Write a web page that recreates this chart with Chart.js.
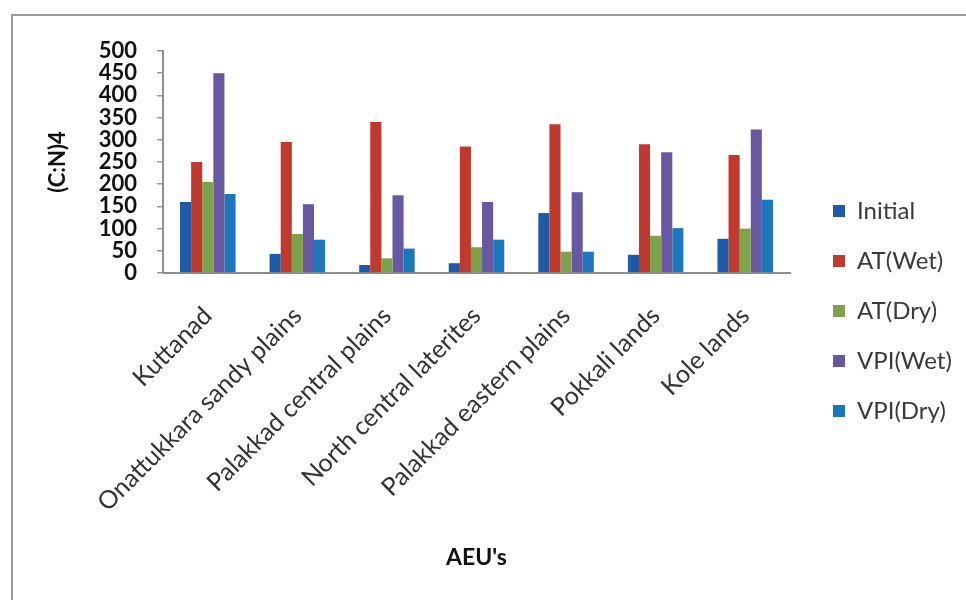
<!DOCTYPE html>
<html>
<head>
<meta charset="utf-8">
<title>C:N ratio by AEU</title>
<script src="https://cdn.jsdelivr.net/npm/chart.js@4.4.1/dist/chart.umd.min.js"></script>
<style>
  html, body { margin: 0; padding: 0; background: #ffffff; }
  body { width: 966px; height: 600px; position: relative; overflow: hidden; }
  #frame {
    position: absolute; left: 11px; top: 14px; width: 980px; height: 620px;
    border-left: 2px solid #9a9a9a; border-top: 2px solid #9a9a9a; box-sizing: border-box;
  }
  #chart { position: absolute; left: 0; top: 0; }
</style>
</head>
<body>
<div id="frame"></div>
<canvas id="chart" width="966" height="600"></canvas>
<script>
// Agro-ecological units along the x axis
const categories = [
  'Kuttanad',
  'Onattukkara sandy plains',
  'Palakkad central plains',
  'North central laterites',
  'Palakkad eastern plains',
  'Pokkali lands',
  'Kole lands'
];

// (C:N)4 values per treatment
const initial = [160, 43, 18, 22, 135, 41, 77];
const atWet   = [250, 295, 340, 285, 335, 290, 266];
const atDry   = [205, 88, 33, 58, 48, 84, 100];
const vpiWet  = [450, 155, 175, 160, 182, 272, 323];
const vpiDry  = [178, 75, 55, 75, 48, 101, 165];

const seriesNames = ['Initial', 'AT(Wet)', 'AT(Dry)', 'VPI(Wet)', 'VPI(Dry)'];
const seriesValues = [initial, atWet, atDry, vpiWet, vpiDry];
const seriesColors = ['#1f5aa6', '#c0392e', '#7ea24a', '#6a57a2', '#1d77bd'];

const yTickMin = 0, yTickMax = 500, yTickStep = 50;

const FONT = 'Lato, "Open Sans", "Liberation Sans", sans-serif';

// Keeps the legend column in a fixed strip right of the plot
const legendStrip = {
  id: 'legendStrip',
  beforeUpdate(chart) {
    const lg = chart.legend;
    if (lg && !lg.__stripFit) {
      const fit = lg.fit.bind(lg);
      lg.fit = function () { fit(); this.width = 176; };
      lg.__stripFit = true;
    }
  },
  afterLayout(chart) {
    const lg = chart.legend;
    if (lg) { lg.left += 17; lg.right += 17; }
  }
};

new Chart(document.getElementById('chart'), {
  type: 'bar',
  data: {
    labels: categories,
    datasets: seriesNames.map((name, i) => ({
      label: name,
      data: seriesValues[i],
      backgroundColor: seriesColors[i],
      borderWidth: 0,
      barPercentage: 1.0,
      categoryPercentage: 0.62
    }))
  },
  options: {
    responsive: false,
    animation: false,
    devicePixelRatio: 1,
    layout: { padding: { left: 40, top: 51, right: 0, bottom: 29 } },
    plugins: {
      tooltip: { enabled: false },
      legend: {
        position: 'right',
        align: 'center',
        labels: {
          boxWidth: 12,
          boxHeight: 12,
          padding: 26,
          color: '#3a3a3a',
          font: { family: FONT, size: 24 }
        }
      }
    },
    scales: {
      x: {
        grid: { drawOnChartArea: false, drawTicks: false },
        border: { display: true, color: '#8f8f8f', width: 2 },
        ticks: {
          color: '#333333',
          font: { family: FONT, size: 25 },
          minRotation: 45,
          maxRotation: 45,
          autoSkip: false,
          padding: 28
        },
        title: {
          display: true,
          text: "AEU's",
          color: '#111111',
          font: { family: FONT, size: 23, weight: 'bold' },
          padding: { top: 0, bottom: 0 }
        },
        afterFit(scale) { scale.height = 298; }
      },
      y: {
        min: yTickMin,
        max: yTickMax,
        grid: { drawOnChartArea: false, drawTicks: true, tickLength: 6, color: '#9a9a9a', lineWidth: 1.5 },
        border: { display: true, color: '#8f8f8f', width: 2 },
        ticks: {
          stepSize: yTickStep,
          autoSkip: false,
          color: '#111111',
          padding: 20,
          font: { family: FONT, size: 22, weight: 'bold', lineHeight: 1.0 }
        },
        title: {
          display: true,
          text: '(C:N)4',
          color: '#111111',
          font: { family: FONT, size: 22, weight: 'bold' },
          padding: { top: 5, bottom: 0 }
        },
        afterFit(scale) { scale.width = 123; }
      }
    }
  },
  plugins: [legendStrip]
});
</script>
</body>
</html>
